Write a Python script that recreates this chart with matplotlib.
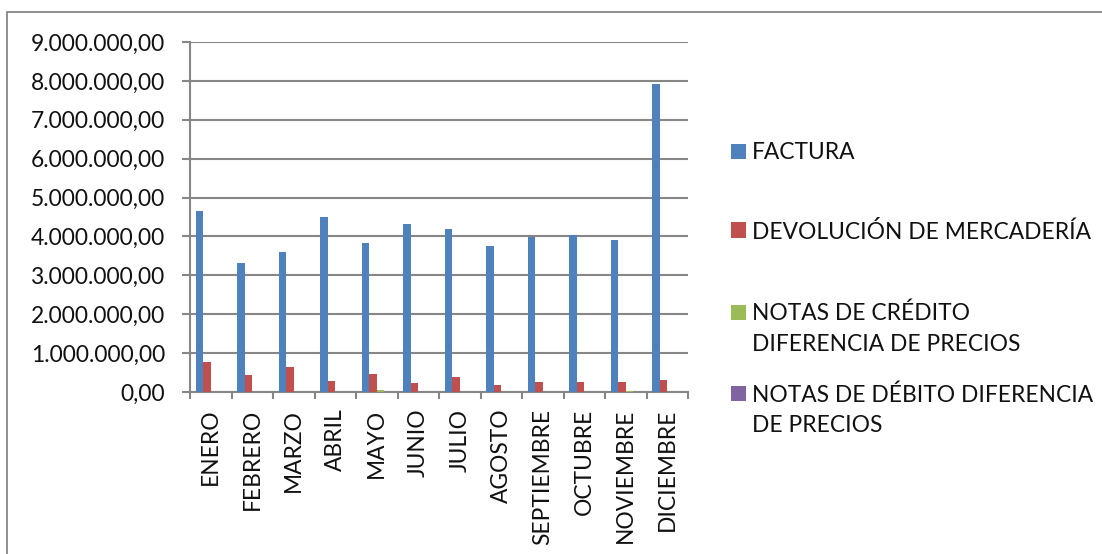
import matplotlib
matplotlib.use("Agg")
import matplotlib.pyplot as plt
import numpy as np
from matplotlib.patches import Rectangle
from matplotlib.ticker import FuncFormatter, FixedLocator

plt.rcParams['font.family'] = ['Lato', 'DejaVu Sans']

meses = ["ENERO", "FEBRERO", "MARZO", "ABRIL", "MAYO", "JUNIO", "JULIO",
         "AGOSTO", "SEPTIEMBRE", "OCTUBRE", "NOVIEMBRE", "DICIEMBRE"]
factura = [4645000, 3310000, 3590000, 4490000, 3830000, 4320000, 4190000,
           3750000, 3980000, 4030000, 3920000, 7910000]
devolucion = [760000, 430000, 640000, 280000, 460000, 240000, 390000,
              170000, 270000, 260000, 270000, 310000]
notas_credito = [0, 0, 0, 0, 60000, 0, 0, 0, 0, 0, 30000, 0]
notas_debito = [0, 0, 0, 0, 0, 0, 0, 0, 0, 0, 0, 0]
series_names = ["FACTURA", "DEVOLUCIÓN DE MERCADERÍA",
                "NOTAS DE CRÉDITO\nDIFERENCIA DE PRECIOS",
                "NOTAS DE DÉBITO DIFERENCIA\nDE PRECIOS"]
colors = ["#4F81BD", "#C0504D", "#9BBB59", "#8064A2"]
yticks = np.arange(0, 9000001, 1000000)

W, H = 1102, 554
FS = 16.4
fig = plt.figure(figsize=(W / 100, H / 100), dpi=100)
fig.patch.set_facecolor("white")

# outer border
fig.add_artist(Rectangle((7 / W, -0.05), 1.2, (H - 12) / H + 0.05,
                         transform=fig.transFigure, fill=False,
                         edgecolor="#868686", linewidth=1.3))

ax = fig.add_axes([190 / W, 1 - 392 / H, (688 - 190) / W, (392 - 42) / H])

grid_c = "#868686"
n = len(meses)
x = np.arange(n)
bw = 1 / 5.5
data = [factura, devolucion, notas_credito, notas_debito]
for i, (vals, c) in enumerate(zip(data, colors)):
    offs = -2 * bw + (i + 0.5) * bw
    ax.bar(x + offs, vals, width=bw, color=c, linewidth=0, zorder=3)

ax.set_xlim(-0.5, n - 0.5)
ax.set_ylim(0, 9000000)
ax.set_yticks(yticks)
ax.yaxis.set_major_formatter(FuncFormatter(
    lambda v, p: f"{v:,.2f}".replace(",", "X").replace(".", ",").replace("X", ".")))
ax.grid(axis="y", color=grid_c, linewidth=1.5, zorder=0)

for s in ["top", "right"]:
    ax.spines[s].set_visible(False)
for s in ["left", "bottom"]:
    ax.spines[s].set_color(grid_c)
    ax.spines[s].set_linewidth(1.5)

ax.set_xticks(x)
ax.set_xticklabels(meses, rotation=90, fontsize=FS, color="#111111")
ax.xaxis.set_minor_locator(FixedLocator(np.arange(-0.5, n, 1)))
ax.tick_params(axis="x", which="major", length=0, pad=12)
ax.tick_params(axis="x", which="minor", length=5, width=1.5, color=grid_c, direction="out")
ax.tick_params(axis="y", length=5.8, width=1.5, color=grid_c, labelsize=FS, pad=12,
               labelcolor="#111111")

# legend (manual)
leg_items = [(series_names[0], 151), (series_names[1], 230),
             (series_names[2], 312), (series_names[3], 393)]
for (lab, yc), c in zip(leg_items, colors):
    fig.add_artist(Rectangle((731 / W, 1 - (yc + 7.5) / H), 15 / W, 15 / H,
                             transform=fig.transFigure, facecolor=c, edgecolor="none"))
    fig.text(752 / W, 1 - (yc - 9) / H, lab, fontsize=FS, va="top", ha="left",
             linespacing=1.55, color="#111111")

fig.savefig("out.png", dpi=100, facecolor="white")
